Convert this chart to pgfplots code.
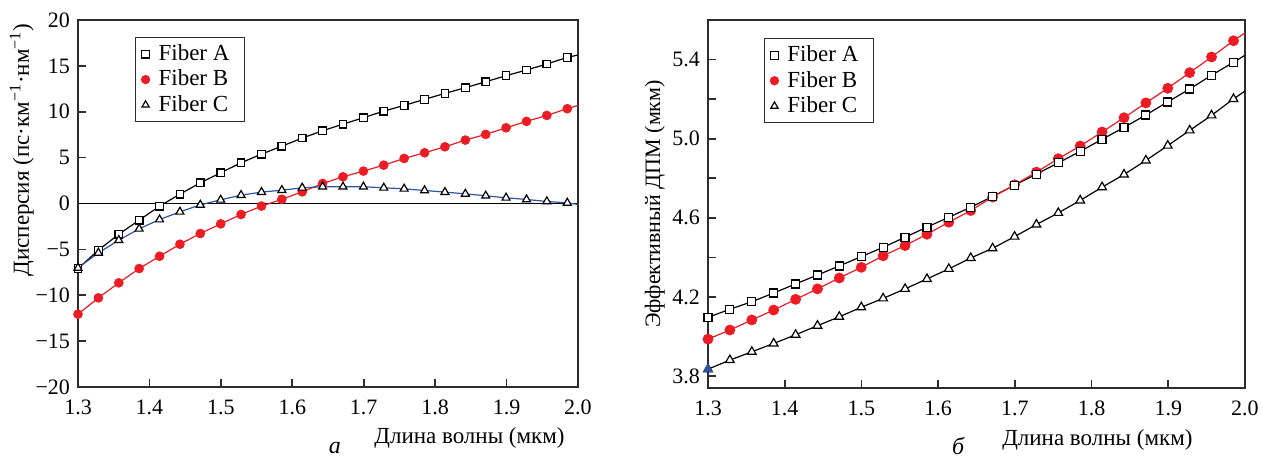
\documentclass[border=0pt]{standalone}
\usepackage{pgfplots}
\pgfplotsset{compat=1.18}
\usepackage{pgfplotstable}
\usepackage{fontspec}
\setmainfont{Liberation Serif}
\definecolor{fred}{RGB}{237,28,36}
\definecolor{fblue}{RGB}{45,85,165}
\definecolor{axgray}{RGB}{45,45,45}

\pgfplotstableread{
x A B C
1.3000 -7.09 -12.07 -7.02
1.3285 -5.09 -10.29 -5.38
1.3571 -3.35 -8.65 -4.00
1.3856 -1.82 -7.09 -2.76
1.4142 -0.29 -5.75 -1.75
1.4427 1.02 -4.44 -0.91
1.4712 2.25 -3.27 -0.15
1.4998 3.35 -2.22 0.40
1.5283 4.44 -1.20 0.91
1.5569 5.38 -0.28 1.24
1.5854 6.25 0.46 1.45
1.6139 7.13 1.27 1.71
1.6425 7.93 2.18 1.82
1.6710 8.65 2.91 1.82
1.6996 9.35 3.53 1.82
1.7281 10.07 4.18 1.71
1.7566 10.69 4.91 1.60
1.7852 11.35 5.53 1.42
1.8137 12.00 6.18 1.24
1.8423 12.62 6.91 1.05
1.8708 13.27 7.53 0.84
1.8993 13.93 8.25 0.62
1.9279 14.55 8.95 0.44
1.9564 15.20 9.60 0.22
1.9850 15.93 10.33 0.07
2.0000 16.18 10.69 -0.10
}\dispdata

\pgfplotstableread{
x A B C
1.3000 4.097 3.987 3.835
1.3285 4.138 4.033 3.881
1.3571 4.176 4.084 3.923
1.3856 4.220 4.134 3.965
1.4142 4.266 4.188 4.009
1.4427 4.311 4.241 4.055
1.4712 4.357 4.296 4.100
1.4998 4.404 4.350 4.148
1.5283 4.451 4.408 4.193
1.5569 4.502 4.460 4.241
1.5854 4.553 4.517 4.291
1.6139 4.603 4.578 4.342
1.6425 4.654 4.637 4.397
1.6710 4.708 4.705 4.446
1.6996 4.765 4.767 4.505
1.7281 4.821 4.831 4.566
1.7566 4.878 4.899 4.625
1.7852 4.936 4.963 4.688
1.8137 4.997 5.034 4.755
1.8423 5.057 5.106 4.819
1.8708 5.120 5.181 4.890
1.8993 5.186 5.255 4.965
1.9279 5.251 5.334 5.042
1.9564 5.321 5.413 5.118
1.9850 5.386 5.495 5.201
2.0000 5.422 5.535 5.241
}\mfddata

\pgfplotsset{
  panel/.style={
    scale only axis,
    clip=false,
    axis line style={axgray, line width=0.8pt},
    tick style={axgray, line width=0.8pt},
    major tick length=4pt, minor tick length=4pt,
    tick align=inside, xtick pos=bottom, ytick pos=left,
    xmin=1.3, xmax=2.0,
    xtick={1.3,1.4,1.5,1.6,1.7,1.8,1.9,2.0},
    xticklabels={1.3,1.4,1.5,1.6,1.7,1.8,1.9,2.0},
    tick label style={font=\fontsize{11}{13}\selectfont},
    xticklabel style={yshift=-3pt},
    yticklabel style={xshift=-0.5pt},
    every axis x label/.style={anchor=base east, inner sep=0pt, font=\fontsize{11.5}{14}\selectfont},
    every axis y label/.style={rotate=90, anchor=base, inner sep=0pt, font=\fontsize{11.5}{13}\selectfont},
    legend cell align=left,
    legend style={draw=axgray, line width=0.6pt, anchor=north west,
      font=\fontsize{11.5}{14}\selectfont,
      inner xsep=3pt, inner ysep=2pt,
      nodes={inner xsep=4.5pt, inner ysep=1.2pt, text height=8.3pt, text depth=2pt},
      row sep=0pt},
  },
  mk/.style={restrict x to domain=1.29:1.99, only marks},
  Aline/.style={black, line width=0.6pt, forget plot},
  Bline/.style={fred, line width=0.6pt, forget plot},
  Amark/.style={mk, mark=square*, mark size=#1, mark options={fill=white, draw=black, line width=0.6pt},
     legend image code/.code={\draw[##1, mark size=1.9pt] plot coordinates {(0.2cm,0pt)};}},
  Bmark/.style={mk, mark=*, mark size=#1, mark options={fill=fred, draw=fred},
     legend image code/.code={\draw[##1, mark size=2.0pt] plot coordinates {(0.2cm,0pt)};}},
  Cmark/.style={mk, mark=triangle*, mark size=#1, mark options={fill=white, draw=black, line width=0.6pt},
     legend image code/.code={\draw[##1, mark size=2.1pt] plot coordinates {(0.2cm,0pt)};}},
}

\begin{document}
\begin{tikzpicture}
\useasboundingbox (-39pt,-36pt) rectangle (592.5pt,193.5pt);
% ---------- panel a ----------
\begin{axis}[panel, at={(0pt,0pt)}, anchor=south west,
  width=250pt, height=183.5pt,
  ymin=-20, ymax=20,
  ytick={-20,-15,-10,-5,0,5,10,15,20},
  yticklabels={−20,−15,−10,−5,0,5,10,15,20},
  xlabel={Длина волны (мкм)},
  xlabel style={at={(axis description cs:0.974,-0.155)}},
  ylabel={Дисперсия (пс·км\textsuperscript{−1}·нм\textsuperscript{−1})},
  ylabel style={at={(axis description cs:-0.098,0.646)}},
  legend style={at={(axis description cs:0.114,0.954)}},
]
\addplot[black, line width=0.6pt, forget plot] coordinates {(1.3,0) (2.0,0)};
\addplot[Aline] table[x=x,y=A] {\dispdata};
\addplot[Bline] table[x=x,y=B] {\dispdata};
\addplot[fblue, line width=0.6pt, forget plot] table[x=x,y=C] {\dispdata};
\addplot[Amark=1.9pt] table[x=x,y=A] {\dispdata};
\addplot[Bmark=2.2pt] table[x=x,y=B] {\dispdata};
\addplot[Cmark=2.3pt] table[x=x,y=C] {\dispdata};
\legend{Fiber A, Fiber B, Fiber C}
\node[font=\fontsize{12}{14}\selectfont\itshape, anchor=base] at (axis description cs:0.514,-0.180) {а};
\end{axis}
% ---------- panel b ----------
\begin{axis}[panel, at={(315pt,-0.5pt)}, anchor=south west,
  width=268.5pt, height=184pt,
  ymin=3.74, ymax=5.6,
  ytick={3.8,4.2,4.6,5.0,5.4},
  yticklabels={3.8,4.2,4.6,5.0,5.4},
  minor ytick={4.0,4.4,4.8,5.2},
  xlabel={Длина волны (мкм)},
  xlabel style={at={(axis description cs:0.903,-0.155)}},
  ylabel={Эффективный ДПМ (мкм)},
  ylabel style={at={(axis description cs:-0.0894,0.5)}, font=\fontsize{11}{13}\selectfont},
  legend style={at={(axis description cs:0.104,0.951)}},
]
\addplot[Aline] table[x=x,y=A] {\mfddata};
\addplot[Bline] table[x=x,y=B] {\mfddata};
\addplot[Aline] table[x=x,y=C] {\mfddata};
\addplot[Amark=2.0pt] table[x=x,y=A] {\mfddata};
\addplot[Bmark=2.5pt] table[x=x,y=B] {\mfddata};
\addplot[Cmark=2.5pt] table[x=x,y=C] {\mfddata};
\addplot[Amark=2.0pt, forget plot] table[x=x,y=A] {\mfddata};
\addplot[only marks, mark=triangle*, mark size=2.5pt, mark options={fill=fblue, draw=fblue}, forget plot] coordinates {(1.3,3.835)};
\legend{Fiber A, Fiber B, Fiber C}
\node[font=\fontsize{12}{14}\selectfont\itshape, anchor=base] at (axis description cs:0.466,-0.180) {б};
\end{axis}
\end{tikzpicture}
\end{document}
